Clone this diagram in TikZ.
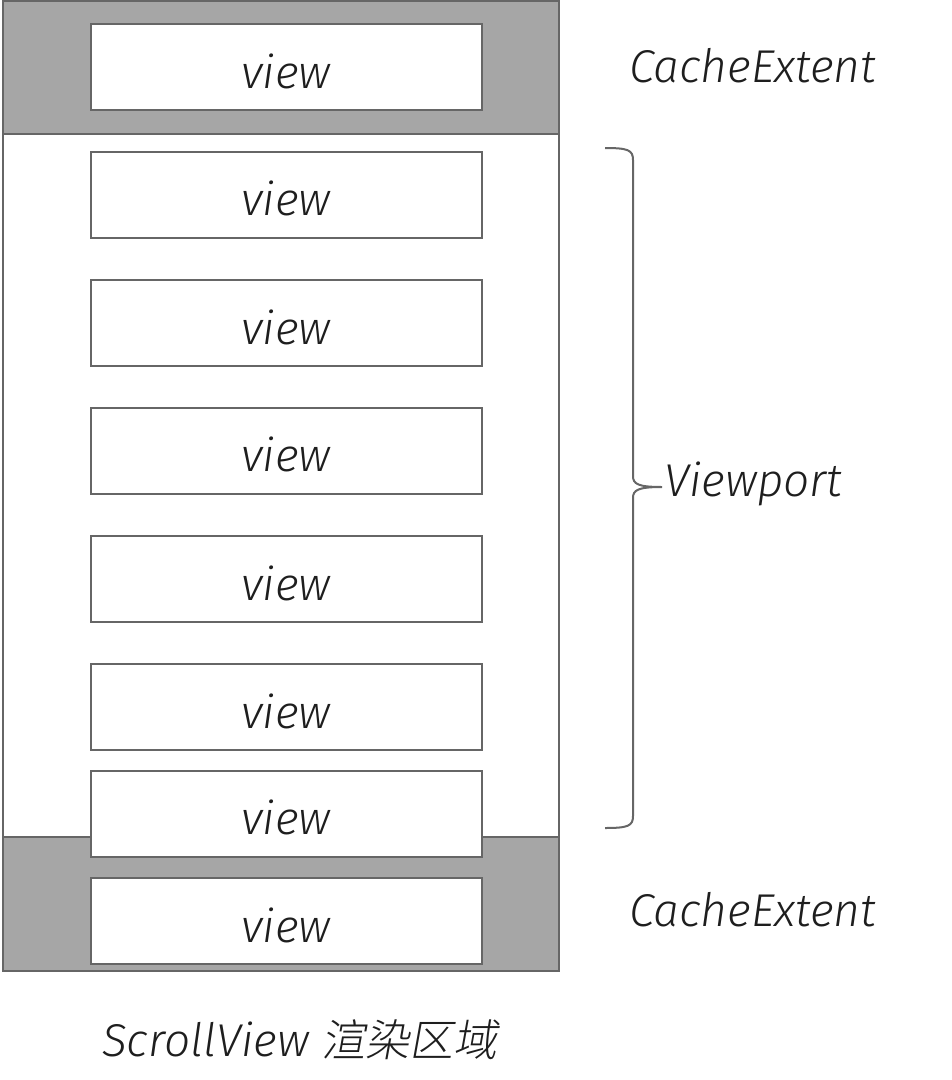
\documentclass[tikz,border=0pt]{standalone}
\usepackage{fontspec}
\newfontfamily\labfont{Fira Sans Light Italic}
\newfontfamily\cjkfont{Noto Sans CJK SC Light}[FakeSlant=0.18]
\definecolor{bandgray}{HTML}{A6A6A6}
\definecolor{linegray}{HTML}{666666}
\definecolor{textdark}{HTML}{1E1E1E}
\tikzset{
  viewbox/.style={draw=linegray, line width=2pt, fill=white, minimum width=391pt, minimum height=86pt, inner sep=0pt, text height=42pt, text depth=0pt, text=textdark, font=\labfont\fontsize{46}{50}\selectfont},
  lab/.style={text=textdark, font=\labfont\fontsize{46}{50}\selectfont, inner sep=0pt},
  frame/.style={draw=linegray, line width=2pt}
}
\begin{document}
\begin{tikzpicture}[x=1pt,y=-1pt]
\useasboundingbox (0,0) rectangle (952,1080);
% bands
\fill[bandgray] (3,1) rectangle (559,134);
\fill[bandgray] (3,837) rectangle (559,971);
\draw[frame] (3,1) rectangle (559,971);
\draw[frame] (3,134) -- (559,134);
\draw[frame] (3,837) -- (559,837);
% views
\node[viewbox] (v1) at (286,67) {view};
\node[viewbox] (v2) at (286,194.5) {view};
\node[viewbox] (v3) at (286,323) {view};
\node[viewbox] (v4) at (286,450.5) {view};
\node[viewbox] (v5) at (286,579) {view};
\node[viewbox] (v6) at (286,707) {view};
\node[viewbox] (v7) at (286,813.5) {view};
\node[viewbox] (v8) at (286,921) {view};
% labels
\node[lab, anchor=west] (ce1) at (629,66) {CacheExtent};
\node[lab, anchor=west] (ce2) at (629,910) {CacheExtent};
% brace
\coordinate (btop) at (605,148);
\coordinate (bbot) at (605,828);
\coordinate (btip) at (662,487);
\draw[linegray, line width=2pt] (btop) .. controls (628,148) and (633,150) .. (633,160)
  -- (633,476) .. controls (633,484) and (638,487) .. (btip)
  (btip) .. controls (638,487) and (633,490) .. (633,498)
  -- (633,816) .. controls (633,826) and (628,828) .. (bbot);
\node[lab, anchor=west] (vp) at (664,484) {Viewport};
% caption
\node[text=textdark, inner sep=0pt] (cap) at (300,1040) {\labfont\fontsize{46}{50}\selectfont ScrollView \cjkfont\fontsize{44}{50}\selectfont 渲染区域};
\end{tikzpicture}
\end{document}
